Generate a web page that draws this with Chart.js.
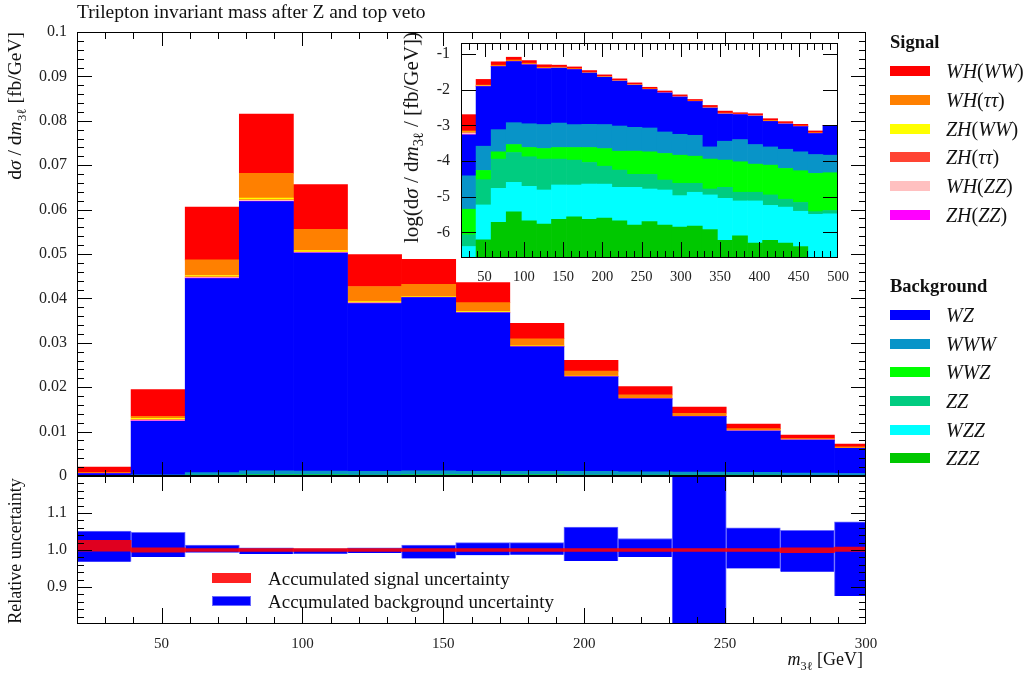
<!DOCTYPE html>
<html><head><meta charset="utf-8">
<script src="https://cdn.jsdelivr.net/npm/chart.js@4.4.0/dist/chart.umd.min.js"></script>
<style>
body{margin:0;background:#fff;width:1029px;height:673px;overflow:hidden;position:relative;font-family:'Liberation Serif',serif;color:#111}
canvas{position:absolute}
#ov{pointer-events:none}
.t{position:absolute;white-space:nowrap;line-height:1}
.rot{transform-origin:0 0;transform:rotate(-90deg) translateX(-100%)}
.rotc{transform-origin:0 0;transform:rotate(-90deg) translateX(-50%)}
.sw{position:absolute;width:40px;height:10px}
.lg{position:absolute;font-size:20px;line-height:1;white-space:nowrap}
.hd{position:absolute;font-size:18.5px;font-weight:bold;line-height:1}
sub{font-size:0.68em}
</style></head>
<body>
<canvas id="main" width="880" height="480" style="left:0;top:0;width:880px;height:480px"></canvas>
<canvas id="ratio" width="880" height="203" style="left:0;top:470px;width:880px;height:203px"></canvas>
<canvas id="inset" width="460" height="250" style="left:400px;top:36px;width:460px;height:250px"></canvas>
<canvas id="ov" width="1029" height="673" style="left:0;top:0;width:1029px;height:673px"></canvas>

<div class="t" style="left:77px;top:2px;font-size:19.5px">Trilepton invariant mass after Z and top veto</div>
<div class="t rot" style="left:5px;top:32px;font-size:19.5px">d<i>σ</i> / d<i>m</i><sub>3ℓ</sub> [fb/GeV]</div>
<div class="t rotc" style="left:6px;top:551px;font-size:18px">Relative uncertainty</div>
<div class="t rot" style="left:401px;top:32px;font-size:21px">log(d<i>σ</i> / d<i>m</i><sub>3ℓ</sub> / [fb/GeV])</div>
<div class="t" style="right:166px;top:650px;font-size:18px"><i>m</i><sub>3ℓ</sub> [GeV]</div>

<div class="hd" style="left:890px;top:33px">Signal</div>
<div class="sw" style="left:890px;top:66px;background:#ff0000"></div><div class="lg" style="left:946px;top:61px"><i>WH</i>(<i>WW</i>)</div>
<div class="sw" style="left:890px;top:95px;background:#ff8000"></div><div class="lg" style="left:946px;top:90px"><i>WH</i>(<i>ττ</i>)</div>
<div class="sw" style="left:890px;top:124px;background:#ffff00"></div><div class="lg" style="left:946px;top:119px"><i>ZH</i>(<i>WW</i>)</div>
<div class="sw" style="left:890px;top:152px;background:#ff4433"></div><div class="lg" style="left:946px;top:147px"><i>ZH</i>(<i>ττ</i>)</div>
<div class="sw" style="left:890px;top:181px;background:#ffc0c0"></div><div class="lg" style="left:946px;top:176px"><i>WH</i>(<i>ZZ</i>)</div>
<div class="sw" style="left:890px;top:210px;background:#ff00ff"></div><div class="lg" style="left:946px;top:205px"><i>ZH</i>(<i>ZZ</i>)</div>
<div class="hd" style="left:890px;top:277px">Background</div>
<div class="sw" style="left:890px;top:310px;background:#0000ff"></div><div class="lg" style="left:946px;top:305px"><i>WZ</i></div>
<div class="sw" style="left:890px;top:339px;background:#0894c8"></div><div class="lg" style="left:946px;top:334px"><i>WWW</i></div>
<div class="sw" style="left:890px;top:367px;background:#00ff00"></div><div class="lg" style="left:946px;top:362px"><i>WWZ</i></div>
<div class="sw" style="left:890px;top:396px;background:#00cc80"></div><div class="lg" style="left:946px;top:391px"><i>ZZ</i></div>
<div class="sw" style="left:890px;top:425px;background:#00ffff"></div><div class="lg" style="left:946px;top:420px"><i>WZZ</i></div>
<div class="sw" style="left:890px;top:453px;background:#00c800"></div><div class="lg" style="left:946px;top:448px"><i>ZZZ</i></div>

<div class="sw" style="left:212px;top:573px;width:39px;background:#ff2020"></div>
<div class="lg" style="left:268px;top:569px;font-size:19px">Accumulated signal uncertainty</div>
<div class="sw" style="left:212px;top:596px;width:39px;background:#0000ff;box-shadow:inset 0 0 0 1px #6a6aff"></div>
<div class="lg" style="left:268px;top:592px;font-size:19px">Accumulated background uncertainty</div>

<script>
// ---------------- data ----------------
const binCenters = [29.6,48.8,68.0,87.2,106.4,125.6,144.8,164.0,183.2,202.4,221.6,240.8,260.0,279.2,298.4,
                    317.6,336.8,356.0,375.2,394.4,413.6,432.8,452.0,471.2,490.4];
const nMainBins = 15;
const xMajorTicks = [50,100,150,200,250,300];
const insetXTicks = [50,100,150,200,250,300,350,400,450,500];
const mainYTicks = [0,0.01,0.02,0.03,0.04,0.05,0.06,0.07,0.08,0.09,0.1];
const ratioYTicks = [0.9,1.0,1.1];
const insetYTicks = [-1,-2,-3,-4,-5,-6];

// background (dsigma/dm, fb/GeV)
const ZZZ = [1.0e-7,6.2e-7,1.9e-6,3.75e-6,2.1e-6,1.7e-6,2.3e-6,2.7e-6,2.3e-6,2.5e-6,2.1e-6,1.6e-6,2.0e-6,1.6e-6,1.4e-6,
             1.5e-6,1.2e-6,6e-7,8e-7,5e-7,6e-7,5e-7,4e-7,2e-7,1e-7];
const WZZ = [3.0e-7,5.25e-6,1.52e-5,2.15e-5,1.74e-5,1.37e-5,1.9e-5,1.85e-5,2.03e-5,2.0e-5,1.62e-5,1.67e-5,1.44e-5,1.38e-5,9.3e-6,
             1.18e-5,1.0e-5,8.4e-6,6.8e-6,7.1e-6,5.1e-6,4.6e-6,3.5e-6,3.0e-6,3.2e-6];
const ZZ  = [4.5e-7,2.4e-5,9.6e-5,1.48e-4,1.12e-4,9.8e-5,9.2e-5,8.5e-5,6.86e-5,4.9e-5,3.74e-5,2.4e-5,2.58e-5,1.39e-5,1.3e-5,
             1.04e-5,5.2e-6,9.3e-6,5.7e-6,5.7e-6,5.5e-6,3.4e-6,3.0e-6,6e-7,8e-7];
const WWZ = [3.6e-6,2.45e-5,6.8e-5,1.17e-4,1.08e-4,1.11e-4,1.26e-4,1.33e-4,1.48e-4,1.52e-4,1.33e-4,1.47e-4,1.39e-4,1.34e-4,1.22e-4,
             1.13e-4,9.7e-5,8.8e-5,8.2e-5,6.85e-5,6.55e-5,5.34e-5,4.65e-5,4.12e-5,4.28e-5];
const WWW = [3.4e-5,2.06e-4,5.78e-4,9.0e-4,8.7e-4,8.3e-4,9.2e-4,8.1e-4,8.3e-4,8.3e-4,7.7e-4,6.9e-4,6.64e-4,4.9e-4,4.16e-4,
             3.9e-4,1.36e-4,2.53e-4,3.04e-4,2.08e-4,1.72e-4,1.52e-4,1.28e-4,1.07e-4,9.9e-5];
const WZ  = [0.0005,0.01204,0.0437,0.0606,0.0491,0.0378,0.0390,0.0357,0.0280,0.0213,0.0164,0.01248,0.00929,0.00745,0.00567,
             0.00415,0.0028,0.00171,0.0016,0.00153,0.00104,0.000876,0.000739,0.000437,0.000854];
// signal
const ZH_ZZ = [1e-5,1e-4,1e-4,1e-4,5e-5,4e-5,3e-5,2e-5,2e-5,1e-5,1e-5,1e-5,1e-5,1e-5,1e-5,
               5e-6,3e-6,3e-6,1e-6,1e-6,1e-6,1e-6,1e-6,1e-6,0];
const WH_ZZ = [6e-5,2e-4,2e-4,2e-4,1e-4,8e-5,5e-5,4e-5,3e-5,2e-5,1e-5,1e-5,1e-5,1e-5,1e-5,
               5e-6,4e-6,4e-6,2e-6,2e-6,2e-6,1e-6,1e-6,2e-6,0];
const ZH_tautau = [2e-5,1e-4,1e-4,1e-4,1e-4,1e-4,5e-5,5e-5,4e-5,3e-5,2e-5,2e-5,2e-5,1e-5,1e-5,
                   1e-5,8e-6,6e-6,4e-6,4e-6,4e-6,3e-6,2e-6,2e-6,0];
const ZH_WW = [2e-5,3e-4,3e-4,4e-4,3e-4,2e-4,2e-4,2e-4,1.5e-4,1e-4,6e-5,4e-5,3e-5,2e-5,2e-5,
               2e-5,1.5e-5,1.2e-5,8e-6,8e-6,7e-6,5e-6,4e-6,3e-6,0];
const WH_tautau = [5e-5,4.5e-4,0.0035,0.0056,0.0048,0.0034,0.0027,0.0020,0.0016,0.0011,0.0008,0.0007,0.00045,0.0003,0.00028,
                   1.8e-4,1.6e-4,1.25e-4,7.5e-5,8.5e-5,7e-5,5e-5,4.2e-5,3e-5,0];
const WH_WW = [0.0013,0.0060,0.0119,0.0133,0.0101,0.0072,0.0056,0.0045,0.0035,0.00245,0.0019,0.0014,0.00105,0.00075,0.0006,
               4.2e-4,3.8e-4,2.9e-4,1.7e-4,2.0e-4,1.65e-4,1.2e-4,1.0e-4,7e-5,0];

// relative uncertainties (main range bins)
const bkgUncLo = [0.968,0.981,0.993,0.989,0.990,0.992,0.977,0.986,0.987,0.970,0.981,0.70,0.950,0.941,0.876];
const bkgUncHi = [1.051,1.048,1.013,1.006,1.004,1.006,1.013,1.020,1.020,1.062,1.031,1.30,1.060,1.053,1.076];
const sigUncLo = [0.997,0.994,0.996,0.996,0.996,0.996,0.996,0.996,0.996,0.996,0.996,0.996,0.996,0.993,0.996];
const sigUncHi = [1.026,1.006,1.004,1.004,1.004,1.004,1.004,1.004,1.004,1.004,1.004,1.004,1.004,1.006,1.008];

// ---------------- styling ----------------
const F = "'Liberation Serif', 'DejaVu Serif', serif";
const layers = [
  {name:'ZZZ', data:ZZZ, color:'#00c800'},
  {name:'WZZ', data:WZZ, color:'#00ffff'},
  {name:'ZZ', data:ZZ, color:'#00cc80'},
  {name:'WWZ', data:WWZ, color:'#00ff00'},
  {name:'WWW', data:WWW, color:'#0894c8'},
  {name:'WZ', data:WZ, color:'#0000ff'},
  {name:'ZH(ZZ)', data:ZH_ZZ, color:'#ff00ff'},
  {name:'WH(ZZ)', data:WH_ZZ, color:'#ffc0c0'},
  {name:'ZH(ττ)', data:ZH_tautau, color:'#ff4433'},
  {name:'ZH(WW)', data:ZH_WW, color:'#ffff00'},
  {name:'WH(ττ)', data:WH_tautau, color:'#ff8000'},
  {name:'WH(WW)', data:WH_WW, color:'#ff0000'}
];

function tickList(start, end, step, majors, majLen, minLen){
  const out=[]; const n=Math.round((end-start)/step);
  for(let k=0;k<=n;k++){
    const v=start+k*step;
    const isMaj=majors.some(m=>Math.abs(m-v)<step*1e-3);
    out.push({v:v, len:isMaj?majLen:minLen});
  }
  return out;
}

// inward tick marks per canvas
const tickSpecs = {
  main:  {x: tickList(20,300,10,xMajorTicks,[14,14],[7,6]), y: tickList(0,0.1,0.002,mainYTicks,15,7)},
  ratio: {x: tickList(20,300,10,xMajorTicks,[15,16],[7,7]), y: tickList(0.8,1.2,0.02,ratioYTicks,15,7)},
  inset: {x: tickList(20,500,10,insetXTicks,[14,16],[7,7]), y: tickList(-6,-1,1,insetYTicks,15,15)}
};

// draws frame + inward ticks of a chart onto a 2D context, shifted by (ox, oy)
function drawFrameTicks(chart, ctx, ox, oy){
  const a = chart.chartArea;
  const xs=chart.scales.x, ys=chart.scales.y;
  const spec = tickSpecs[chart.canvas.id];
  if(!spec || !a) return;
  const L=Math.round(a.left)+ox, R=Math.round(a.right)+ox, T=Math.round(a.top)+oy, B=Math.round(a.bottom)+oy;
  ctx.save();
  ctx.fillStyle='#000';
  for(const t of spec.x){
    const p=Math.round(xs.getPixelForValue(t.v))+ox;
    if(!(p>L && p<R-1)) continue;
    ctx.fillRect(p, T, 1, t.len[0]);
    ctx.fillRect(p, B-t.len[1], 1, t.len[1]);
  }
  for(const t of spec.y){
    const p=Math.round(ys.getPixelForValue(t.v))+oy;
    if(!(p>T && p<B-1)) continue;
    ctx.fillRect(L, p, t.len, 1);
    ctx.fillRect(R-t.len, p, t.len, 1);
  }
  ctx.fillRect(L, T, R-L, 1);
  ctx.fillRect(L, B-1, R-L, 1);
  ctx.fillRect(L, T, 1, B-T);
  ctx.fillRect(R-1, T, 1, B-T);
  ctx.restore();
}
const frameTicks = { id:'frameTicks', afterDraw(chart){ drawFrameTicks(chart, chart.ctx, 0, 0); } };

const zeroPad = s => { s.paddingLeft=0; s.paddingRight=0; s.paddingTop=0; s.paddingBottom=0; };
const base = {
  responsive:false, animation:false, devicePixelRatio:1, events:[],
  plugins:{legend:{display:false}, tooltip:{enabled:false}}
};

// ---------------- main chart ----------------
const mainChart = new Chart(document.getElementById('main'), {
  type:'bar',
  data:{datasets: layers.map(l=>({
    label:l.name, backgroundColor:l.color, borderWidth:0, clip:0,
    barPercentage:1, categoryPercentage:1,
    data: binCenters.slice(0,nMainBins).map((c,i)=>({x:c, y:l.data[i]}))
  }))},
  options:Object.assign({}, base, {
    layout:{padding:{top:32,right:14,bottom:4,left:0}},
    scales:{
      x:{type:'linear', min:20, max:300, stacked:true, offset:false, display:false,
         afterBuildTicks:s=>{s.ticks=xMajorTicks.map(v=>({value:v}));}},
      y:{type:'linear', min:0, max:0.1, stacked:true,
         grid:{display:false, drawTicks:false}, border:{display:false},
         ticks:{padding:10, color:'#222', font:{family:F, size:16},
                callback:v=>String(Math.round(v*100)/100)},
         afterBuildTicks:s=>{s.ticks=mainYTicks.map(v=>({value:v}));},
         afterFit:s=>{s.width=77; zeroPad(s);}}
    }
  }),
  plugins:[frameTicks]
});

// ---------------- ratio chart ----------------
const ratioChart = new Chart(document.getElementById('ratio'), {
  type:'bar',
  data:{datasets:[
    {label:'Accumulated signal uncertainty', order:0, backgroundColor:'rgba(255,0,0,0.88)', borderWidth:0, clip:0,
     barPercentage:1, categoryPercentage:1,
     data: binCenters.slice(0,nMainBins).map((c,i)=>({x:c, y:[sigUncLo[i], sigUncHi[i]]}))},
    {label:'Accumulated background uncertainty', order:1, backgroundColor:'#0000ff', borderColor:'#6a6aff', borderWidth:1, clip:0,
     barPercentage:1, categoryPercentage:1,
     data: binCenters.slice(0,nMainBins).map((c,i)=>({x:c, y:[bkgUncLo[i], bkgUncHi[i]]}))}
  ]},
  options:Object.assign({}, base, {
    layout:{padding:{top:6,right:14,bottom:0,left:0}},
    scales:{
      x:{type:'linear', min:20, max:300, stacked:true, offset:false,
         grid:{display:false, drawTicks:false}, border:{display:false},
         ticks:{padding:11, color:'#222', maxRotation:0, autoSkip:false, font:{family:F, size:15}},
         afterBuildTicks:s=>{s.ticks=xMajorTicks.map(v=>({value:v}));},
         afterFit:s=>{s.height=49; zeroPad(s);}},
      y:{type:'linear', min:0.8, max:1.2, stacked:false,
         grid:{display:false, drawTicks:false}, border:{display:false},
         ticks:{padding:10, color:'#222', font:{family:F, size:16}, callback:v=>v.toFixed(1)},
         afterBuildTicks:s=>{s.ticks=ratioYTicks.map(v=>({value:v}));},
         afterFit:s=>{s.width=77; zeroPad(s);}}
    }
  }),
  plugins:[frameTicks]
});

// ---------------- inset (log of cumulative stack) ----------------
const cum = binCenters.map(()=>0);
const lg = v => v>0 ? Math.log10(v) : -10;
const insetSets = layers.map(l=>{
  const data = binCenters.map((c,i)=>{
    const lo = lg(cum[i]); cum[i]+=l.data[i]; const hi = lg(cum[i]);
    return {x:c, y:[lo,hi]};
  });
  return {label:l.name, backgroundColor:l.color, borderWidth:0, clip:0, barPercentage:1, categoryPercentage:1, data};
});
const insetChart = new Chart(document.getElementById('inset'), {
  type:'bar',
  data:{datasets:insetSets},
  options:Object.assign({}, base, {
    layout:{padding:{top:7,right:22,bottom:0,left:0}},
    scales:{
      x:{type:'linear', min:20, max:500, stacked:true, offset:false,
         grid:{display:false, drawTicks:false}, border:{display:false},
         ticks:{padding:10, color:'#222', maxRotation:0, autoSkip:false, font:{family:F, size:14.5}},
         afterBuildTicks:s=>{s.ticks=insetXTicks.map(v=>({value:v}));},
         afterFit:s=>{s.height=28; zeroPad(s);}},
      y:{type:'linear', min:-6.72, max:-0.69, stacked:false,
         grid:{display:false, drawTicks:false}, border:{display:false},
         ticks:{padding:11, color:'#222', font:{family:F, size:16}, callback:v=>'-'+Math.abs(v)},
         afterBuildTicks:s=>{s.ticks=insetYTicks.map(v=>({value:v}));},
         afterFit:s=>{s.width=61; zeroPad(s);}}
    }
  }),
  plugins:[frameTicks]
});

// overlay pass: frames and inward ticks on a page-wide canvas above the charts
function drawOverlay(){
  const ov = document.getElementById('ov').getContext('2d');
  ov.clearRect(0,0,1029,673);
  [[mainChart,0,0],[ratioChart,0,470],[insetChart,400,36]].forEach(([c,ox,oy])=>drawFrameTicks(c, ov, ox, oy));
}
drawOverlay();
setTimeout(drawOverlay, 50);
</script>
</body></html>
